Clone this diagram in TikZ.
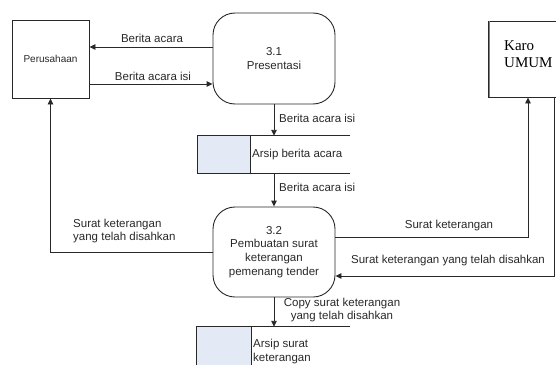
\documentclass[tikz,border=0pt]{standalone}
\usepackage{fontspec}
\setmainfont{Liberation Sans}
\newfontfamily\timesf{Liberation Serif}
\usetikzlibrary{arrows.meta}
\definecolor{storefill}{RGB}{227,233,245}
\definecolor{inkc}{RGB}{40,40,40}
\begin{document}
\begin{tikzpicture}[x=1pt,y=-1pt,
  every node/.style={font=\fontsize{11.5}{13.8}\selectfont, text=inkc, inner sep=0pt},
  ln/.style={draw=inkc, line width=0.9pt},
  arr/.style={ln, -{Triangle[length=6pt,width=5.5pt]}},
  proc/.style={ln, rounded corners=22pt, minimum width=122pt, minimum height=91pt, align=center},
  ent/.style={ln, minimum width=77pt, minimum height=78pt},
  lbl/.style={align=center},
  lbll/.style={align=left, anchor=west}]
\useasboundingbox (0,0) rectangle (556,364);

% entities
\node[ent] (per) at (50.5,59) {\fontsize{10}{12}\selectfont Perusahaan};
\node[ln, minimum width=80pt, minimum height=76pt] (karo) at (528,59) {};
\draw[line width=1.3pt, draw=gray] ([xshift=1.6pt]karo.north west) -- ([xshift=1.6pt]karo.south west);
\node[lbll, font=\timesf\fontsize{15}{17}\selectfont, text=black] (karotxt) at (504,54.5) {Karo\\UMUM};

% processes
\node[proc] (p31) at (274,58.5) {3.1\\Presentasi};
\node[proc, minimum height=90pt] (p32) at (274,252) {3.2\\Pembuatan surat\\keterangan\\pemenang tender};

% data store 1
\node[minimum width=152pt, minimum height=37pt] (ds1) at (274,154.5) {};
\fill[storefill] (ds1.north west) rectangle ([xshift=53pt]ds1.south west);
\draw[ln] (ds1.north east) -- (ds1.north west) -- (ds1.south west) -- (ds1.south east);
\draw[ln] ([xshift=53pt]ds1.north west) -- ([xshift=53pt]ds1.south west);
\node[lbll] (ds1txt) at (252,155) {Arsip berita acara};

% data store 2
\node[minimum width=153pt, minimum height=42pt] (ds2) at (273.5,348) {};
\fill[storefill] (ds2.north west) rectangle ([xshift=55pt]ds2.south west);
\draw[ln] (ds2.north east) -- (ds2.north west) -- (ds2.south west);
\draw[ln] ([xshift=55pt]ds2.north west) -- ([xshift=55pt]ds2.south west);
\node[lbll] (ds2txt) at (253,351.5) {Arsip surat\\keterangan};

% flows
\draw[arr] (p31.west |- 0,47) -- (per.east |- 0,47);
\node[lbl] (l1) at (152,38) {Berita acara};
\draw[arr] (per.east |- 0,84) -- (p31.west |- 0,84);
\node[lbl] (l2) at (153,76) {Berita acara isi};

\draw[arr] (p31.south) -- (p31.south |- ds1.north);
\node[lbll] (l3) at (279,118) {Berita acara isi};
\draw[arr] (p31.south |- ds1.south) -- (p32.north);
\node[lbll] (l4) at (279,187) {Berita acara isi};

\draw[arr] (p32.west) -| (per.south);
\node[lbll] (l5) at (73,231) {Surat keterangan\\yang telah disahkan};

\draw[arr] (p32.east |- 0,237) -| (karo.south);
\node[lbl] (l6) at (449,226) {Surat keterangan};
\draw[arr] ([xshift=26pt]karo.south) |- (p32.east |- 0,276);
\node[lbl] (l7) at (448,261) {Surat keterangan yang telah disahkan};

\draw[arr] (p32.south) -- (p32.south |- ds2.north);
\node[lbl] (l8) at (342,310) {Copy surat keterangan\\yang telah disahkan};
\end{tikzpicture}
\end{document}
